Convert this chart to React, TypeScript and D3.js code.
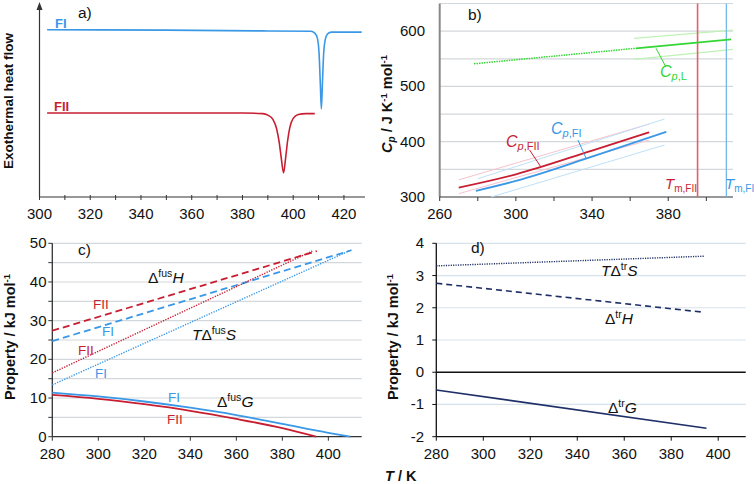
import React from "react";
import * as d3 from "d3";

const FONT = "'Liberation Sans', Arial, Helvetica, sans-serif";
const BLUE = "#3a98e6";
const RED = "#c81e32";
const GREEN = "#33d633";
const NAVY = "#1d2f66";
const PINK = "#f6c3cc";
const LBLUE = "#bfe0f7";
const LGREEN = "#bff2b6";
const GRID = "#d3d8dc";
const AXIS = "#333";

type P = [number, number];

// ---------- panel a: DSC traces (T / K, arbitrary heat flow) ----------
const aTicks = [300, 320, 340, 360, 380, 400, 420];
const dscFI: P[] = [
  [303, 8.62], [350, 8.6], [390, 8.56], [407, 8.54], [408.5, 8.45], [409.5, 8.2],
  [410.2, 7.4], [410.7, 5.8], [411.1, 4.54], [411.5, 5.8], [412, 7.4], [412.6, 8.1],
  [413.5, 8.4], [415, 8.5], [420, 8.5], [427, 8.5],
];
const dscFII: P[] = [
  [303, 4.33], [380, 4.33], [388, 4.3], [390, 4.22], [392, 4.0], [393.5, 3.5],
  [394.5, 2.8], [395.3, 2.0], [396.2, 1.24], [397, 2.0], [397.8, 2.9], [398.7, 3.6],
  [400, 4.05], [402, 4.25], [405, 4.3], [408.5, 4.3],
];

// ---------- panel b: heat capacities ----------
const bXTicks = [260, 300, 340, 380];
const bYTicks = [300, 400, 500, 600];
const bGrid = [350, 400, 450, 500, 550, 600, 650];
const cpFII: P[] = [[270, 317], [300, 341], [340, 384], [370, 417]];
const cpFIIHi: P[] = [[270, 331], [370, 432]];
const cpFIILo: P[] = [[270, 306], [370, 403]];
const cpFI: P[] = [[279, 311], [300, 329], [340, 373], [379, 418]];
const cpFIHi: P[] = [[280, 333], [378, 441]];
const cpFILo: P[] = [[287, 300], [378, 394]];
const cpLExtrap: P[] = [[278, 541], [363, 569]];
const cpL: P[] = [[363, 569], [413, 585]];
const cpLHi: P[] = [[362, 587], [414, 602]];
const cpLLo: P[] = [[362, 549], [414, 567]];
const tmFII = 395.4;
const tmFI = 410.5;

// ---------- panel c: fusion properties ----------
const cXTicks = [280, 300, 320, 340, 360, 380, 400];
const cYTicks = [0, 10, 20, 30, 40, 50];
const fusH_FII: P[] = [[280, 27.4], [395, 48]];
const fusH_FI: P[] = [[280, 24.7], [410, 48.2]];
const TfusS_FII: P[] = [[280, 16.5], [393, 48]];
const TfusS_FI: P[] = [[280, 13.4], [410, 48.3]];
const fusG_FI: P[] = [[280, 11.4], [300, 10.4], [320, 9.1], [340, 7.5], [360, 5.6], [380, 3.3], [400, 1.0], [409.5, 0]];
const fusG_FII: P[] = [[280, 10.8], [300, 9.8], [320, 8.4], [340, 6.7], [360, 4.6], [380, 2.2], [394.7, 0]];

// ---------- panel d: transition properties ----------
const dXTicks = [280, 300, 320, 340, 360, 380, 400];
const dYTicks = [-2, -1, 0, 1, 2, 3, 4];
const trTS: P[] = [[280, 3.3], [394, 3.6]];
const trH: P[] = [[280, 2.76], [394, 1.86]];
const trG: P[] = [[280, -0.55], [395, -1.74]];

function mkLine(x: d3.ScaleLinear<number, number>, y: d3.ScaleLinear<number, number>, curve = d3.curveLinear) {
  return d3.line<P>().x((d) => x(d[0])).y((d) => y(d[1])).curve(curve);
}

export default function App() {
  // scales
  const ax = d3.scaleLinear().domain([300, 428.3]).range([39.5, 365]);
  const ay = d3.scaleLinear().domain([0, 10]).range([197, 3]);
  const bx = d3.scaleLinear().domain([260, 414]).range([439.7, 733]);
  const by = d3.scaleLinear().domain([300, 650]).range([197, 3.5]);
  const cx = d3.scaleLinear().domain([280, 414.5]).range([52.3, 361.7]);
  const cy = d3.scaleLinear().domain([0, 50]).range([436.7, 243.3]);
  const dx = d3.scaleLinear().domain([280, 411.7]).range([436.3, 745.7]);
  const dy = d3.scaleLinear().domain([-2, 4]).range([436.7, 243.3]);

  const la = mkLine(ax, ay, d3.curveMonotoneX);
  const lb = mkLine(bx, by, d3.curveMonotoneX);
  const lc = mkLine(cx, cy, d3.curveMonotoneX);
  const ld = mkLine(dx, dy);

  const tickFs = 15;
  const labFs = 14.5;

  return (
    <svg width={756} height={484} style={{ position: "absolute", left: 0, top: 0, background: "#fff" }} fontFamily={FONT}>
      <rect width={756} height={484} fill="#fff" />
      {/* ================= panel a ================= */}
      <g>
        <line x1={ax(300)} x2={ax(300)} y1={ay(0)} y2={5} stroke={AXIS} strokeWidth={1.2} />
        <path d={`M${ax(300) - 3},${10} L${ax(300)},${2} L${ax(300) + 3},${10} Z`} fill={AXIS} />
        <line x1={ax(300)} x2={ax(428.3)} y1={ay(0)} y2={ay(0)} stroke={AXIS} strokeWidth={1.2} />
        {d3.range(300, 430, 10).map((t) => (
          <line key={t} x1={ax(t)} x2={ax(t)} y1={ay(0) - 2} y2={ay(0) + 3} stroke={AXIS} strokeWidth={1} />
        ))}
        {aTicks.map((t) => (
          <text key={t} x={ax(t)} y={218.5} fontSize={tickFs} textAnchor="middle" fill="#111">{t}</text>
        ))}
        <path d={la(dscFI) || ""} fill="none" stroke={BLUE} strokeWidth={1.6} />
        <path d={la(dscFII) || ""} fill="none" stroke={RED} strokeWidth={1.6} />
        <text x={55} y={28} fontSize={13} fontWeight="bold" fill={BLUE}>FI</text>
        <text x={54} y={111} fontSize={13} fontWeight="bold" fill={RED}>FII</text>
        <text x={78} y={18} fontSize={labFs + 1} fill="#111">a)</text>
        <text transform={`translate(13,101) rotate(-90)`} fontSize={13.5} fontWeight="bold" textAnchor="middle" fill="#111">Exothermal heat flow</text>
      </g>

      {/* ================= panel b ================= */}
      <g>
        {bGrid.map((v) => (
          <line key={v} x1={bx(260)} x2={bx(414)} y1={by(v)} y2={by(v)} stroke={GRID} strokeWidth={1.2} />
        ))}
        <line x1={bx(260)} x2={bx(260)} y1={by(300)} y2={by(650)} stroke="#888" strokeWidth={2} />
        <line x1={bx(260)} x2={bx(414)} y1={by(300)} y2={by(300)} stroke={AXIS} strokeWidth={1.2} />
        {d3.range(260, 414, 20).map((t) => (
          <line key={t} x1={bx(t)} x2={bx(t)} y1={by(300)} y2={by(300) + 4} stroke={AXIS} strokeWidth={1} />
        ))}
        {bXTicks.map((t) => (
          <text key={t} x={bx(t)} y={218.5} fontSize={tickFs} textAnchor="middle" fill="#111">{t}</text>
        ))}
        {bYTicks.map((v) => (
          <text key={v} x={425} y={by(v) + 5} fontSize={tickFs} textAnchor="end" fill="#111">{v}</text>
        ))}
        {/* confidence bands */}
        <path d={lb(cpFIIHi) || ""} fill="none" stroke={PINK} strokeWidth={1} />
        <path d={lb(cpFIILo) || ""} fill="none" stroke={PINK} strokeWidth={1} />
        <path d={lb(cpFIHi) || ""} fill="none" stroke={LBLUE} strokeWidth={1} />
        <path d={lb(cpFILo) || ""} fill="none" stroke={LBLUE} strokeWidth={1} />
        <path d={lb(cpLHi) || ""} fill="none" stroke={LGREEN} strokeWidth={1.2} />
        <path d={lb(cpLLo) || ""} fill="none" stroke={LGREEN} strokeWidth={1.2} />
        {/* melting temperatures */}
        <line x1={bx(tmFII)} x2={bx(tmFII)} y1={by(300)} y2={by(650)} stroke="#e2606e" strokeWidth={1.6} />
        <line x1={bx(tmFI)} x2={bx(tmFI)} y1={by(300)} y2={by(650)} stroke="#6ab4ea" strokeWidth={1.2} />
        {/* heat capacity lines */}
        <path d={lb(cpFII) || ""} fill="none" stroke={RED} strokeWidth={1.8} />
        <path d={lb(cpFI) || ""} fill="none" stroke={BLUE} strokeWidth={1.8} />
        <path d={lb(cpLExtrap) || ""} fill="none" stroke={GREEN} strokeWidth={1.5} strokeDasharray="1.5,1" />
        <path d={lb(cpL) || ""} fill="none" stroke={GREEN} strokeWidth={1.8} />
        {/* leaders */}
        <line x1={bx(307.2)} y1={by(385)} x2={bx(313)} y2={by(355)} stroke={RED} strokeWidth={1} />
        <line x1={bx(332.6)} y1={by(403)} x2={bx(336.8)} y2={by(370.5)} stroke={BLUE} strokeWidth={1} />
        <line x1={bx(373.6)} y1={by(569)} x2={bx(378.8)} y2={by(535)} stroke={GREEN} strokeWidth={1} />
        {/* labels */}
        <text x={506} y={146.5} fontSize={16} fill={RED}>
          <tspan fontStyle="italic">C</tspan>
          <tspan fontSize={11} dy={3}><tspan fontStyle="italic">p</tspan>,FII</tspan>
        </text>
        <text x={551} y={134} fontSize={16} fill={BLUE}>
          <tspan fontStyle="italic">C</tspan>
          <tspan fontSize={11} dy={3}><tspan fontStyle="italic">p</tspan>,FI</tspan>
        </text>
        <text x={660} y={77} fontSize={16} fill={GREEN}>
          <tspan fontStyle="italic">C</tspan>
          <tspan fontSize={11} dy={3}><tspan fontStyle="italic">p</tspan>,L</tspan>
        </text>
        <text x={665} y={189} fontSize={15} fill={RED}>
          <tspan fontStyle="italic">T</tspan>
          <tspan fontSize={10} dy={3}>m,FII</tspan>
        </text>
        <text x={725} y={189} fontSize={15} fill={BLUE}>
          <tspan fontStyle="italic">T</tspan>
          <tspan fontSize={10} dy={3}>m,FI</tspan>
        </text>
        <text x={468} y={20} fontSize={labFs + 1} fill="#111">b)</text>
        <text transform={`translate(392,104) rotate(-90)`} fontSize={14.5} fontWeight="bold" textAnchor="middle" fill="#111">
          <tspan fontStyle="italic">C</tspan>
          <tspan fontSize={10} dy={3} fontStyle="italic">p</tspan>
          <tspan dy={-3}> / J K</tspan>
          <tspan fontSize={9.5} dy={-5}>-1</tspan>
          <tspan dy={5}> mol</tspan>
          <tspan fontSize={9.5} dy={-5}>-1</tspan>
        </text>
      </g>

      {/* ================= panel c ================= */}
      <g>
        {d3.range(5, 51, 5).map((v) => (
          <line key={v} x1={cx(280)} x2={cx(414.5)} y1={cy(v)} y2={cy(v)} stroke={GRID} strokeWidth={1.2} />
        ))}
        <line x1={cx(280)} x2={cx(280)} y1={cy(0)} y2={cy(50)} stroke={AXIS} strokeWidth={1.3} />
        <line x1={cx(280)} x2={cx(414.5)} y1={cy(0)} y2={cy(0)} stroke={AXIS} strokeWidth={1.3} />
        {d3.range(0, 51, 5).map((v) => (
          <line key={v} x1={cx(280) - 4} x2={cx(280)} y1={cy(v)} y2={cy(v)} stroke={AXIS} strokeWidth={1} />
        ))}
        {cXTicks.map((t) => (
          <line key={t} x1={cx(t)} x2={cx(t)} y1={cy(0)} y2={cy(0) + 4} stroke={AXIS} strokeWidth={1} />
        ))}
        {cXTicks.map((t) => (
          <text key={t} x={cx(t)} y={458.5} fontSize={tickFs} textAnchor="middle" fill="#111">{t}</text>
        ))}
        {cYTicks.map((v) => (
          <text key={v} x={46.5} y={cy(v) + 5} fontSize={tickFs} textAnchor="end" fill="#111">{v}</text>
        ))}
        <path d={lc(fusH_FII) || ""} fill="none" stroke={RED} strokeWidth={1.8} strokeDasharray="7,4" />
        <path d={lc(fusH_FI) || ""} fill="none" stroke={BLUE} strokeWidth={1.8} strokeDasharray="7,4" />
        <path d={lc(TfusS_FII) || ""} fill="none" stroke={RED} strokeWidth={1.4} strokeDasharray="1.3,1.3" />
        <path d={lc(TfusS_FI) || ""} fill="none" stroke={BLUE} strokeWidth={1.4} strokeDasharray="1.3,1.3" />
        <path d={lc(fusG_FII) || ""} fill="none" stroke={RED} strokeWidth={1.8} />
        <path d={lc(fusG_FI) || ""} fill="none" stroke={BLUE} strokeWidth={1.8} />
        <text x={148} y={283} fontSize={15.5} fill="#111">
          Δ<tspan fontSize={10.5} dy={-6}>fus</tspan><tspan dy={6} fontStyle="italic">H</tspan>
        </text>
        <text x={192} y={340} fontSize={15.5} fill="#111">
          <tspan fontStyle="italic">T</tspan>Δ<tspan fontSize={10.5} dy={-6}>fus</tspan><tspan dy={6} fontStyle="italic">S</tspan>
        </text>
        <text x={217} y={407} fontSize={15.5} fill="#111">
          Δ<tspan fontSize={10.5} dy={-6}>fus</tspan><tspan dy={6} fontStyle="italic">G</tspan>
        </text>
        <text x={93} y={309} fontSize={13.5} fill={RED}>FII</text>
        <text x={102} y={336} fontSize={13.5} fill={BLUE}>FI</text>
        <text x={78} y={355} fontSize={13.5} fill={RED}>FII</text>
        <text x={95} y={378} fontSize={13.5} fill={BLUE}>FI</text>
        <text x={168} y={402} fontSize={13.5} fill={BLUE}>FI</text>
        <text x={167} y={424} fontSize={13.5} fill={RED}>FII</text>
        <text x={78} y={255} fontSize={labFs + 1} fill="#111">c)</text>
        <text transform={`translate(15,337) rotate(-90)`} fontSize={14.5} fontWeight="bold" textAnchor="middle" fill="#111">
          Property / kJ mol<tspan fontSize={9.5} dy={-5}>-1</tspan>
        </text>
      </g>

      {/* ================= panel d ================= */}
      <g>
        {dYTicks.filter((v) => v !== 0 && v !== -2).map((v) => (
          <line key={v} x1={dx(280)} x2={dx(411.7)} y1={dy(v)} y2={dy(v)} stroke="#d8e2ea" strokeWidth={1.2} />
        ))}
        <line x1={dx(280)} x2={dx(411.7)} y1={dy(0)} y2={dy(0)} stroke="#111" strokeWidth={1.3} />
        <line x1={dx(280)} x2={dx(280)} y1={dy(-2)} y2={dy(4)} stroke="#111" strokeWidth={1.3} />
        <line x1={dx(280)} x2={dx(411.7)} y1={dy(-2)} y2={dy(-2)} stroke="#111" strokeWidth={1.3} />
        {dYTicks.map((v) => (
          <line key={v} x1={dx(280) - 4} x2={dx(280)} y1={dy(v)} y2={dy(v)} stroke="#111" strokeWidth={1} />
        ))}
        {dXTicks.map((t) => (
          <line key={t} x1={dx(t)} x2={dx(t)} y1={dy(-2)} y2={dy(-2) + 4} stroke="#111" strokeWidth={1} />
        ))}
        {dXTicks.map((t) => (
          <text key={t} x={dx(t)} y={458.5} fontSize={tickFs} textAnchor="middle" fill="#111">{t}</text>
        ))}
        {dYTicks.map((v) => (
          <text key={v} x={424} y={dy(v) + 5} fontSize={tickFs} textAnchor="end" fill="#111">{v}</text>
        ))}
        <path d={ld(trTS) || ""} fill="none" stroke={NAVY} strokeWidth={1.4} strokeDasharray="1.2,1.2" />
        <path d={ld(trH) || ""} fill="none" stroke={NAVY} strokeWidth={1.6} strokeDasharray="6,4" />
        <path d={ld(trG) || ""} fill="none" stroke={NAVY} strokeWidth={1.6} />
        <text x={601} y={276} fontSize={15.5} fill="#111">
          <tspan fontStyle="italic">T</tspan>Δ<tspan fontSize={10.5} dy={-6}>tr</tspan><tspan dy={6} fontStyle="italic">S</tspan>
        </text>
        <text x={605} y={324} fontSize={15.5} fill="#111">
          Δ<tspan fontSize={10.5} dy={-6}>tr</tspan><tspan dy={6} fontStyle="italic">H</tspan>
        </text>
        <text x={608} y={413} fontSize={15.5} fill="#111">
          Δ<tspan fontSize={10.5} dy={-6}>tr</tspan><tspan dy={6} fontStyle="italic">G</tspan>
        </text>
        <text x={471} y={253} fontSize={labFs + 1} fill="#111">d)</text>
        <text transform={`translate(398,337) rotate(-90)`} fontSize={14.5} fontWeight="bold" textAnchor="middle" fill="#111">
          Property / kJ mol<tspan fontSize={9.5} dy={-5}>-1</tspan>
        </text>
        <text x={385} y={481} fontSize={14.5} fontWeight="bold" fill="#111">
          <tspan fontStyle="italic">T</tspan> / K
        </text>
      </g>
    </svg>
  );
}
